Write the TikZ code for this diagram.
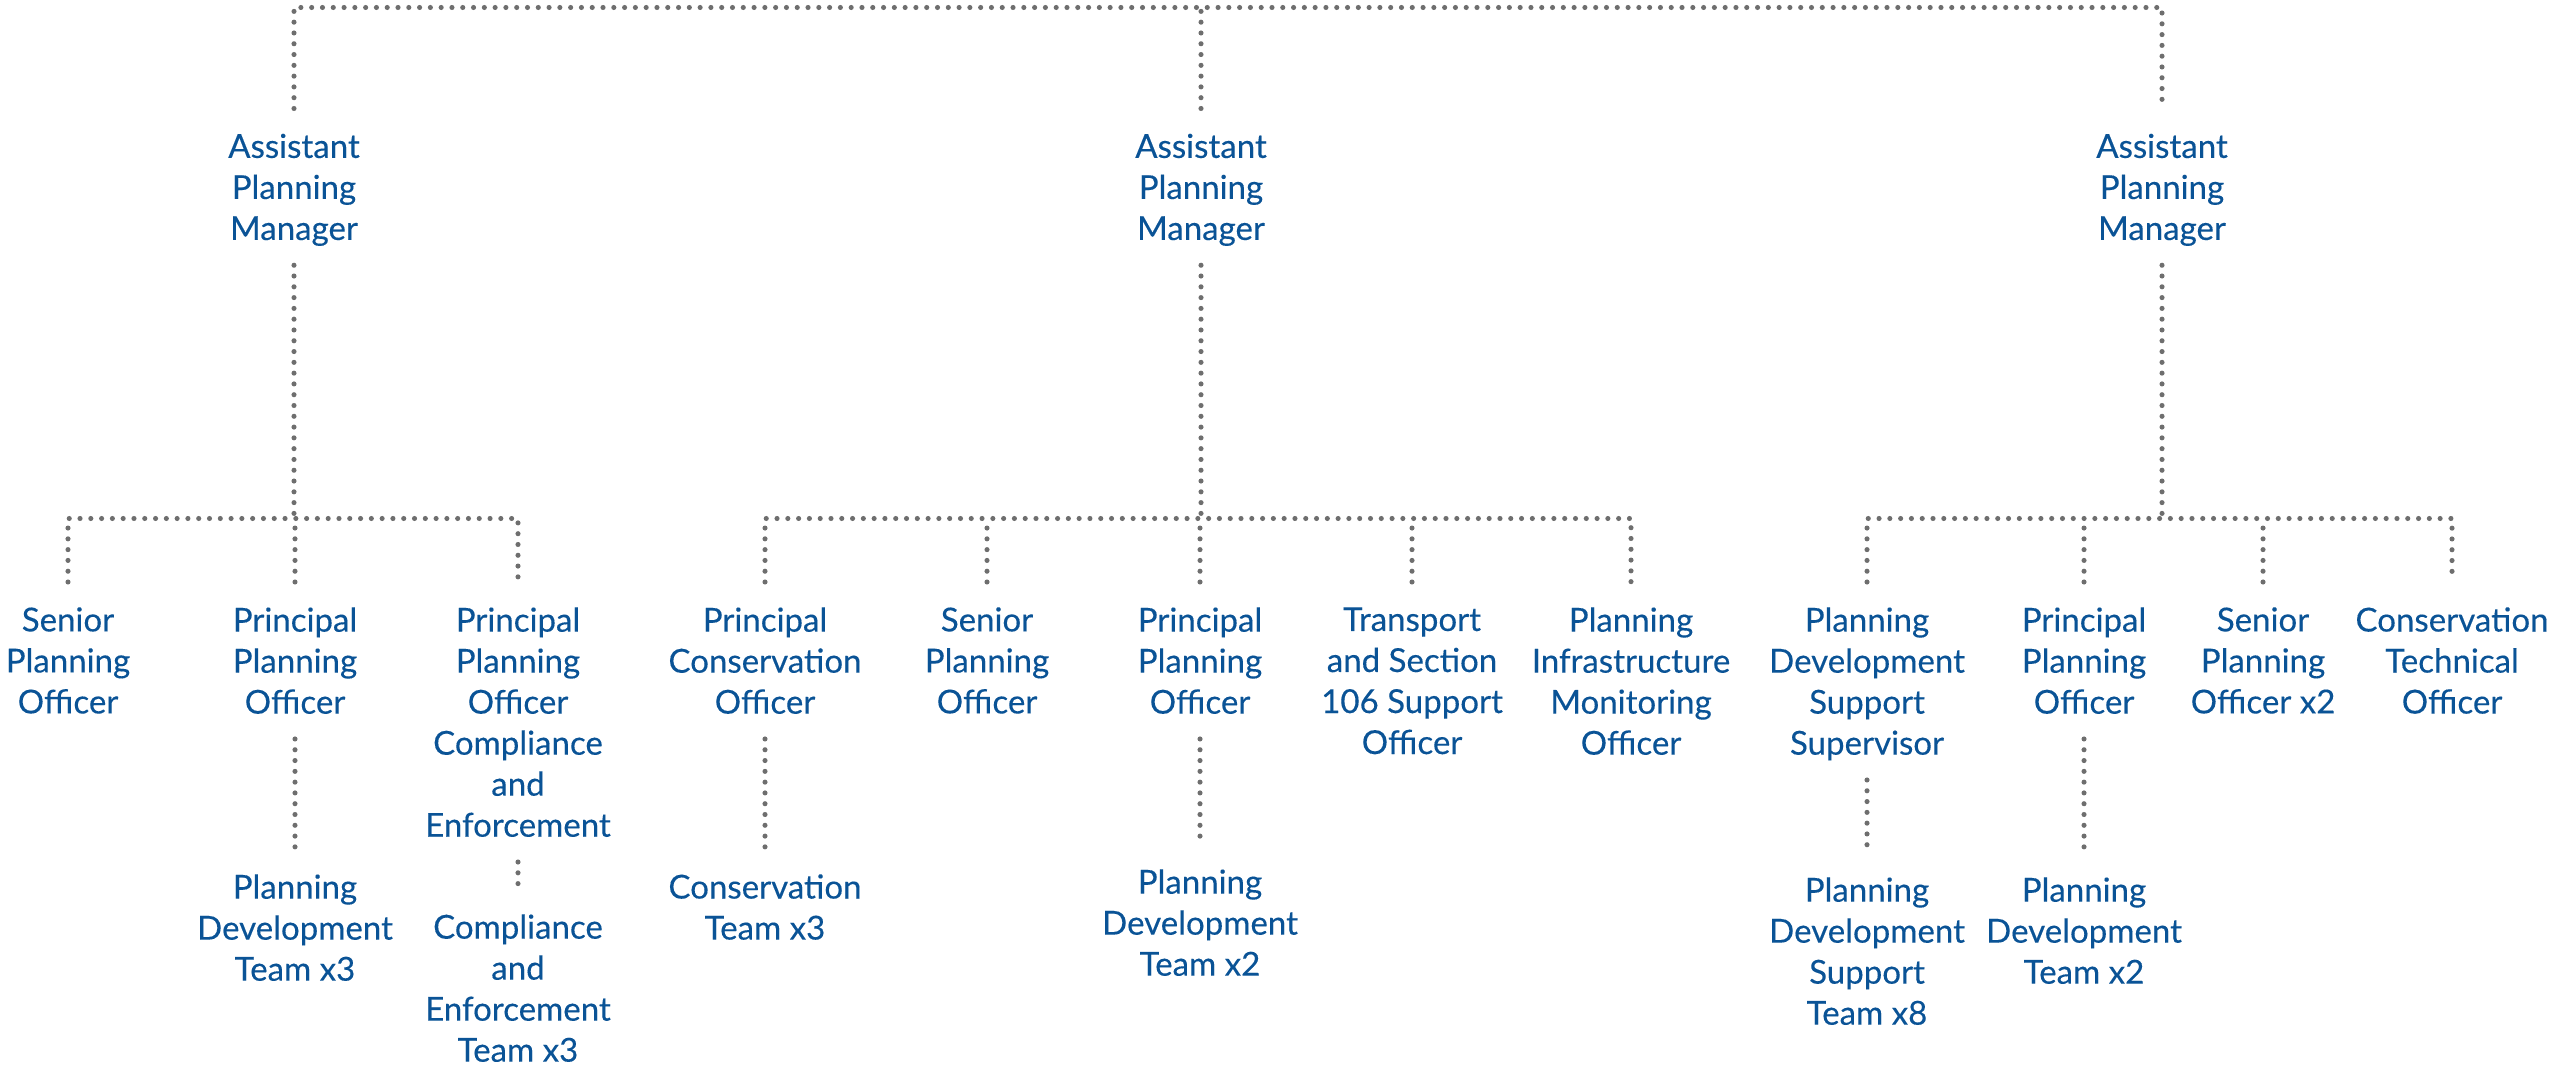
\documentclass[tikz,border=0pt]{standalone}
\usepackage{fontspec}
\setmainfont{Lato}[FakeBold=0.25]
\definecolor{orgblue}{HTML}{0A5396}
\definecolor{dotgrey}{HTML}{6E6E6E}

\begin{document}
\begin{tikzpicture}[
  post/.style={anchor=north,align=center,text=orgblue,inner xsep=0pt,inner ysep=7pt,
    text depth=0pt,font=\fontsize{9.4}{11.67}\selectfont},
  dotline/.style={draw=dotgrey,line width=1.45pt,line cap=round,dash pattern=on 0pt off 3.07pt}]
  \useasboundingbox (0,0) rectangle (25.53,-10.66);

  \node[post] (a1) at (2.94,-1.085) {Assistant\\Planning\\Manager};
  \node[post] (a2) at (12.01,-1.085) {Assistant\\Planning\\Manager};
  \node[post] (a3) at (21.62,-1.085) {Assistant\\Planning\\Manager};

  % left team
  \node[post] (l1) at (0.68,-5.82) {Senior\\Planning\\Officer};
  \node[post] (l2) at (2.95,-5.82) {Principal\\Planning\\Officer};
  \node[post] (l3) at (5.18,-5.82) {Principal\\Planning\\Officer\\Compliance\\and\\Enforcement};
  \node[post] (lt2) at (2.95,-8.49) {Planning\\Development\\Team x3};
  \node[post] (lt3) at (5.18,-8.89) {Compliance\\and\\Enforcement\\Team x3};

  % middle team
  \node[post] (m1) at (7.65,-5.82) {Principal\\Conservation\\Officer};
  \node[post] (m2) at (9.87,-5.82) {Senior\\Planning\\Officer};
  \node[post] (m3) at (12.00,-5.82) {Principal\\Planning\\Officer};
  \node[post] (m4) at (14.12,-5.82) {Transport\\and Section\\106 Support\\Officer};
  \node[post] (m5) at (16.31,-5.82) {Planning\\Infrastructure\\Monitoring\\Officer};
  \node[post] (mt1) at (7.65,-8.49) {Conservation\\Team x3};
  \node[post] (mt3) at (12.00,-8.44) {Planning\\Development\\Team x2};

  % right team
  \node[post] (r1) at (18.67,-5.82) {Planning\\Development\\Support\\Supervisor};
  \node[post] (r2) at (20.84,-5.82) {Principal\\Planning\\Officer};
  \node[post] (r3) at (22.63,-5.82) {Senior\\Planning\\Officer x2};
  \node[post] (r4) at (24.52,-5.82) {Conservation\\Technical\\Officer};
  \node[post] (rt1) at (18.67,-8.52) {Planning\\Development\\Support\\Team x8};
  \node[post] (rt2) at (20.84,-8.52) {Planning\\Development\\Team x2};

  \coordinate (top) at (0,-0.075);
  \coordinate (bar) at (0,-5.185);
  \draw[dotline] (a1.north) |- (top -| a3.north) -- (a3.north);
  \draw[dotline] (a2.north) -- (a2.north |- top);
  \foreach \p/\f/\l in {a1/l1/l3, a2/m1/m5, a3/r1/r4} {
    \draw[dotline] (\p.south) -- (\p.south |- bar);
    \draw[dotline] (\f.north) |- (bar -| \l.north) -- (\l.north);
  }
  \foreach \c in {l2,m2,m3,m4,r2,r3}
    \draw[dotline] (\c.north) -- (\c.north |- bar);
  \foreach \c/\t in {l2/lt2,l3/lt3,m1/mt1,m3/mt3,r1/rt1,r2/rt2}
    \draw[dotline] (\c.south) -- (\t.north);
\end{tikzpicture}
\end{document}
